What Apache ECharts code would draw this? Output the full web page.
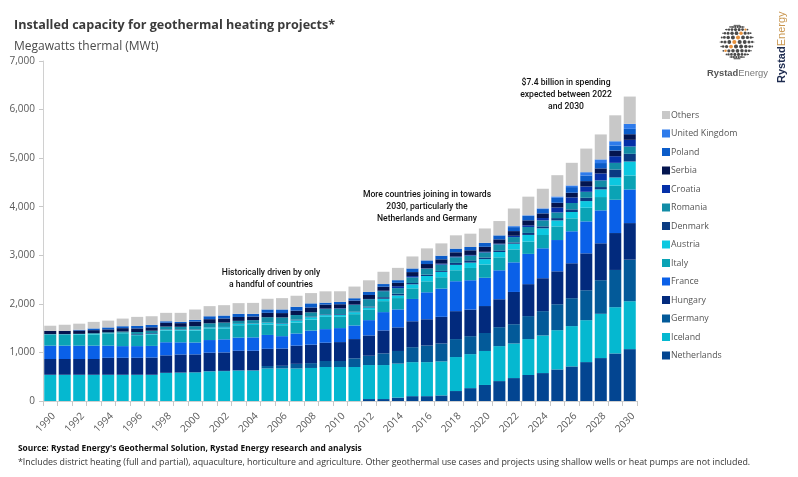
<!DOCTYPE html>
<html>
<head>
<meta charset="utf-8">
<style>
  html, body { margin: 0; padding: 0; background: #fff; }
  #chart { width: 798px; height: 477px; }
</style>
<script src="https://cdn.jsdelivr.net/npm/echarts@6/dist/echarts.min.js"></script>
</head>
<body>
<div id="chart"></div>
<script>
const years = [];
for (let y = 1990; y <= 2030; y++) years.push(String(y));

const yTicks = [0, 1000, 2000, 3000, 4000, 5000, 6000, 7000];

// values in MWt, 1990 -> 2030
const netherlands = [0,0,0,0,0,0,0,0,0,0,0,0,0,0,0,0,0,0,0,0,0,0,40,40,70,100,100,115,205,265,330,410,472,535,575,650,712,801,884,979,1068];
const iceland = [540,540,540,540,540,540,540,540,580,585,590,610,615,625,625,670,670,670,680,700,700,700,700,700,700,700,700,700,700,700,700,720,712,740,775,808,830,863,911,952,986];
const germany = [0,0,0,0,0,0,0,0,0,0,0,5,5,10,10,50,55,95,100,123,123,178,192,240,260,308,342,370,370,370,370,390,397,473,500,534,575,616,692,767,856];
const hungary = [325,325,325,325,350,350,350,355,360,373,370,380,380,400,400,355,355,375,380,377,390,397,418,473,486,534,541,548,575,548,555,575,664,658,678,678,719,760,760,760,753];
const france = [275,275,275,275,250,240,240,240,270,250,245,260,270,270,275,285,255,250,290,280,288,280,315,377,370,459,555,582,616,603,582,596,610,623,616,644,658,658,678,685,692];
const italy = [225,225,225,230,240,265,225,235,240,240,245,240,225,255,255,215,225,225,225,253,233,233,212,226,233,219,226,233,226,253,274,267,267,253,274,281,267,281,274,295,288];
const austria = [10,10,12,12,10,10,10,12,12,15,15,20,25,25,25,35,35,45,50,35,41,41,48,48,55,82,110,110,110,110,110,110,116,137,137,123,130,137,158,164,288];
const denmark = [0,0,0,0,0,0,15,15,10,10,10,5,5,5,5,5,10,15,15,15,15,10,20,34,34,27,27,20,41,48,34,34,27,41,41,48,55,68,48,164,158];
const romania = [0,0,5,15,25,25,40,50,60,55,65,80,90,60,70,110,115,95,85,110,110,137,151,123,116,116,123,130,116,96,103,123,110,123,123,116,130,123,137,137,151];
const croatia = [0,0,0,0,0,0,0,0,0,0,0,0,0,0,0,0,0,0,0,10,10,10,5,10,40,27,7,20,14,14,14,14,27,34,48,103,116,110,144,137,137];
const serbia = [70,70,70,62,60,70,75,70,80,75,95,85,85,80,75,90,90,90,100,82,82,82,82,82,69,82,89,89,89,96,103,89,96,103,96,96,96,110,103,116,116];
const poland = [0,0,15,35,40,40,50,50,30,25,35,60,60,65,55,70,75,80,85,40,48,48,62,55,55,75,75,75,75,68,82,82,82,89,89,103,116,116,110,103,110];
const unitedKingdom = [0,0,0,0,0,0,0,0,0,0,0,0,0,0,0,0,0,0,0,0,0,0,0,0,0,0,0,0,0,0,0,0,20,14,14,27,34,68,75,89,103];
const others = [105,125,125,135,140,157,187,178,173,187,214,208,213,220,225,220,233,227,212,233,219,240,240,253,253,247,247,253,274,274,295,295,363,384,404,438,466,486,514,534,562];

const seriesList = [
  { name: "Netherlands", data: netherlands, color: "#034591" },
  { name: "Iceland", data: iceland, color: "#05B8D0" },
  { name: "Germany", data: germany, color: "#035A99" },
  { name: "Hungary", data: hungary, color: "#022A7D" },
  { name: "France", data: france, color: "#0A60E8" },
  { name: "Italy", data: italy, color: "#0AA3B5" },
  { name: "Austria", data: austria, color: "#0CC8E0" },
  { name: "Denmark", data: denmark, color: "#0A3B82" },
  { name: "Romania", data: romania, color: "#128CA6" },
  { name: "Croatia", data: croatia, color: "#0530A8" },
  { name: "Serbia", data: serbia, color: "#04154F" },
  { name: "Poland", data: poland, color: "#0B5CC9" },
  { name: "United Kingdom", data: unitedKingdom, color: "#2E7BEB" },
  { name: "Others", data: others, color: "#C8C8C8" }
];

const FONT = '"Open Sans", "Noto Sans", sans-serif';

function txt(x, y, text, size, color, extra) {
  return {
    type: "text",
    x: x,
    y: y,
    silent: true,
    style: Object.assign({ text: text, fontSize: size, fontFamily: FONT, fill: color }, extra || {})
  };
}

// three centred notes over the bars
function note(x, y, text) {
  return txt(x, y, text, 8.6, "#111", { align: "center", lineHeight: 12, fontWeight: 500, fontFamily: "Roboto" });
}

// globe of the logo, rows of dots that shrink towards the edge
function globeDots() {
  const out = [];
  const cx = 737, cy = 42, r = 17;
  for (let lat = -78; lat <= 78; lat += 15.6) {
    for (let lon = -81; lon <= 81; lon += 18) {
      const a = lat * Math.PI / 180;
      const b = (lon + lat * 0.35) * Math.PI / 180;
      const x = r * Math.cos(a) * Math.sin(b);
      const y = r * Math.sin(a);
      const depth = Math.cos(a) * Math.cos(b);
      if (depth < 0.12) continue;
      const orange = Math.abs(x + y * 0.9 + 3) < 2;
      out.push({
        type: "circle",
        silent: true,
        shape: { cx: cx + x, cy: cy + y, r: 0.35 + 1.75 * depth },
        style: { fill: orange ? "#E8913C" : "#4A4A4A" }
      });
    }
  }
  return out;
}

const chart = echarts.init(document.getElementById("chart"), null, { renderer: "canvas" });

chart.setOption({
  animation: false,
  backgroundColor: "#fff",
  textStyle: { fontFamily: FONT },
  grid: { left: 43, right: 161, top: 61, bottom: 76, containLabel: false },
  legend: {
    orient: "vertical",
    left: 662,
    top: 110,
    padding: 0,
    itemWidth: 8,
    itemHeight: 8,
    itemGap: 8.5,
    icon: "rect",
    selectedMode: false,
    data: seriesList.map(s => s.name).reverse(),
    textStyle: { fontSize: 8.8, color: "#555", fontFamily: FONT, padding: [0, 0, 0, -4], height: 10, lineHeight: 10 }
  },
  xAxis: {
    type: "category",
    data: years,
    axisLine: { lineStyle: { color: "#D0D0D0" } },
    axisTick: { show: true, alignWithLabel: false, interval: 0, length: 5, lineStyle: { color: "#C8C8C8" } },
    axisLabel: { show: true, interval: 1, rotate: 45, align: "right", verticalAlign: "top", fontSize: 10, color: "#595959", margin: 10 },
    splitLine: { show: false }
  },
  yAxis: {
    type: "value",
    min: yTicks[0],
    max: yTicks[yTicks.length - 1],
    interval: 1000,
    axisLine: { show: true, lineStyle: { color: "#D0D0D0" } },
    axisTick: { show: true, length: 4, lineStyle: { color: "#C8C8C8" } },
    axisLabel: {
      fontSize: 10,
      color: "#595959",
      margin: 8,
      formatter: v => v.toLocaleString("en-US")
    },
    splitLine: { show: false }
  },
  series: seriesList.map(s => ({
    name: s.name,
    type: "bar",
    stack: "total",
    data: s.data,
    barCategoryGap: "17%",
    itemStyle: { color: s.color }
  })),
  graphic: [
    txt(14, 19, "Installed capacity for geothermal heating projects*", 12.6, "#3A3A3A", { fontWeight: 700 }),
    txt(14, 41, "Megawatts thermal (MWt)", 12, "#4A4A4A"),
    note(271, 267, "Historically driven by only\na handful of countries"),
    note(427, 189, "More countries joining in towards\n2030, particularly the\nNetherlands and Germany"),
    note(566, 77, "$7.4 billion in spending\nexpected between 2022\nand 2030"),
    txt(18, 445, "Source: Rystad Energy's Geothermal Solution, Rystad Energy research and analysis", 8.4, "#111", { fontWeight: 700 }),
    txt(18, 458, "*Includes district heating (full and partial), aquaculture, horticulture and agriculture. Other geothermal use cases and projects using shallow wells or heat pumps are not included.", 8.86, "#333"),
    txt(707, 69, "{a|Rystad}{b|Energy}", 9.4, "#555", {
      rich: {
        a: { fontSize: 9.4, fontWeight: 700, fill: "#555", fontFamily: "Liberation Sans" },
        b: { fontSize: 9.4, fill: "#777", fontFamily: "Liberation Sans" }
      }
    }),
    {
      type: "text",
      x: 776,
      y: 83,
      rotation: Math.PI / 2,
      silent: true,
      style: {
        text: "{b|Rystad}{c|Energy}",
        fontSize: 10.5,
        rich: {
          b: { fontSize: 11, fontWeight: 700, fill: "#1D2B4F", fontFamily: "Liberation Sans" },
          c: { fontSize: 11, fill: "#C9964F", fontFamily: "Liberation Sans" }
        }
      }
    }
  ].concat(globeDots())
});
</script>
</body>
</html>
